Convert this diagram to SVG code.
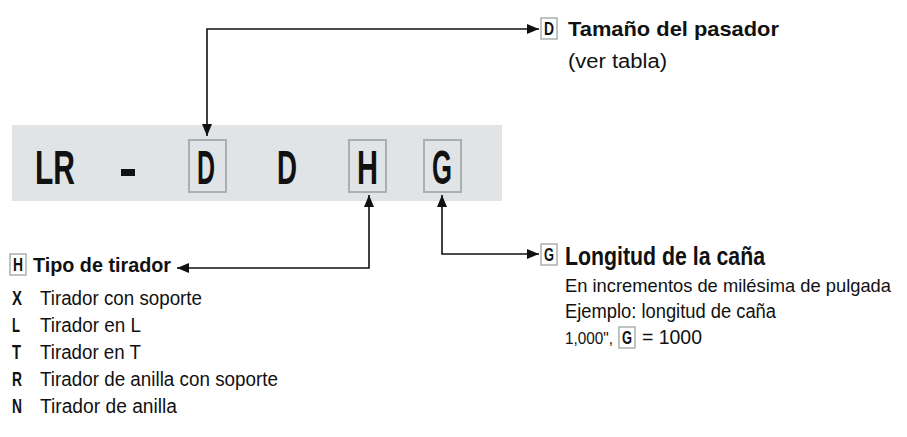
<svg xmlns="http://www.w3.org/2000/svg" width="907" height="437" viewBox="0 0 907 437">
<defs>
<marker id="arr" viewBox="0 0 12 10" refX="12" refY="5" markerWidth="12" markerHeight="10" markerUnits="userSpaceOnUse" orient="auto-start-reverse">
<path d="M0,0 L12,5 L0,10 Z" fill="#111"/>
</marker>
</defs>
<style>
.t{font-family:"Liberation Sans",Arial,sans-serif;fill:#111;}
.big{font-size:48px;font-weight:bold;}
.b{font-weight:bold;}
.box{fill:none;stroke:#a9b1ac;stroke-width:2;}
.lbox{fill:#fff;stroke:#a9b1ac;stroke-width:1.5;}
.con{fill:none;stroke:#111;stroke-width:1.6;marker-start:url(#arr);marker-end:url(#arr);}
</style>
<g id="code">
<rect x="12" y="125" width="490" height="76" fill="#e1e4e7"/>
<text class="t big" x="35" y="184" textLength="40" lengthAdjust="spacingAndGlyphs">LR</text>
<rect x="121" y="169" width="14" height="7" fill="#111"/>
<rect class="box" x="189" y="140" width="37" height="52"/>
<text class="t big" x="197" y="184" textLength="18" lengthAdjust="spacingAndGlyphs">D</text>
<text class="t big" x="277" y="184" textLength="20" lengthAdjust="spacingAndGlyphs">D</text>
<rect class="box" x="349" y="140" width="37" height="52"/>
<text class="t big" x="357" y="184" textLength="21" lengthAdjust="spacingAndGlyphs">H</text>
<rect class="box" x="424" y="140" width="37" height="52"/>
<text class="t big" x="432" y="184" textLength="20" lengthAdjust="spacingAndGlyphs">G</text>
</g>
<g id="connectors">
<path class="con" d="M207,136 V29 H539"/>
<path class="con" d="M369,195 V268 H177"/>
<path class="con" d="M442,195 V254 H539"/>
</g>
<g id="label-D">
<rect class="lbox" x="541" y="18" width="16" height="21"/>
<text class="t b" x="544" y="35" font-size="18" textLength="10" lengthAdjust="spacingAndGlyphs">D</text>
<text class="t b" x="568" y="36" font-size="21" textLength="211" lengthAdjust="spacingAndGlyphs">Tamaño del pasador</text>
<text class="t" x="568" y="68" font-size="20" textLength="99" lengthAdjust="spacingAndGlyphs">(ver tabla)</text>
</g>
<g id="label-H">
<rect class="lbox" x="10" y="254" width="16" height="21"/>
<text class="t b" x="13" y="271" font-size="18" textLength="10" lengthAdjust="spacingAndGlyphs">H</text>
<text class="t b" x="33" y="272" font-size="21" textLength="138" lengthAdjust="spacingAndGlyphs">Tipo de tirador</text>
<text class="t b" x="12" y="305" font-size="20" textLength="10" lengthAdjust="spacingAndGlyphs">X</text>
<text class="t" x="40" y="305" font-size="20" textLength="162" lengthAdjust="spacingAndGlyphs">Tirador con soporte</text>
<text class="t b" x="12" y="332" font-size="20" textLength="8" lengthAdjust="spacingAndGlyphs">L</text>
<text class="t" x="40" y="332" font-size="20" textLength="101" lengthAdjust="spacingAndGlyphs">Tirador en L</text>
<text class="t b" x="12" y="359" font-size="20" textLength="9" lengthAdjust="spacingAndGlyphs">T</text>
<text class="t" x="40" y="359" font-size="20" textLength="101" lengthAdjust="spacingAndGlyphs">Tirador en T</text>
<text class="t b" x="12" y="386" font-size="20" textLength="10" lengthAdjust="spacingAndGlyphs">R</text>
<text class="t" x="40" y="386" font-size="20" textLength="238" lengthAdjust="spacingAndGlyphs">Tirador de anilla con soporte</text>
<text class="t b" x="12" y="413" font-size="20" textLength="10" lengthAdjust="spacingAndGlyphs">N</text>
<text class="t" x="40" y="413" font-size="20" textLength="137" lengthAdjust="spacingAndGlyphs">Tirador de anilla</text>
</g>
<g id="label-G">
<rect class="lbox" x="541" y="244" width="16" height="21"/>
<text class="t b" x="544" y="261" font-size="18" textLength="10" lengthAdjust="spacingAndGlyphs">G</text>
<text class="t b" x="565" y="265" font-size="25" textLength="200" lengthAdjust="spacingAndGlyphs">Longitud de la caña</text>
<text class="t" x="565" y="292" font-size="19" textLength="326" lengthAdjust="spacingAndGlyphs">En incrementos de milésima de pulgada</text>
<text class="t" x="565" y="318" font-size="20" textLength="211" lengthAdjust="spacingAndGlyphs">Ejemplo: longitud de caña</text>
<text class="t" x="565" y="344" font-size="17" textLength="48" lengthAdjust="spacingAndGlyphs">1,000",</text>
<rect class="lbox" x="619" y="327" width="16" height="21"/>
<text class="t b" x="622" y="344" font-size="18" textLength="10" lengthAdjust="spacingAndGlyphs">G</text>
<text class="t" x="642" y="344" font-size="20" textLength="60" lengthAdjust="spacingAndGlyphs">= 1000</text>
</g>
</svg>
